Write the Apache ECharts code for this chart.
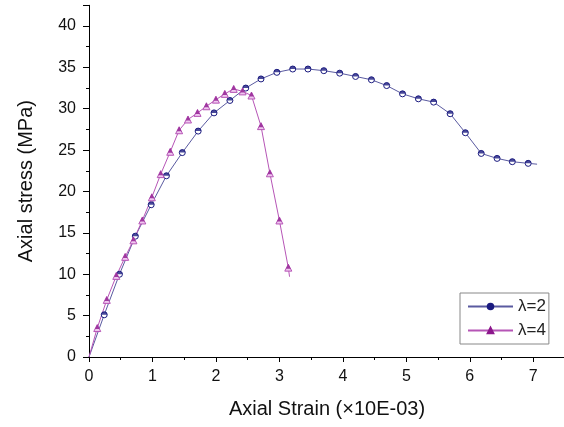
<!DOCTYPE html>
<html><head><meta charset="utf-8">
<script src="https://cdn.jsdelivr.net/npm/echarts@6/dist/echarts.min.js"></script>
<style>html,body{margin:0;padding:0;background:#fff}#c{width:564px;height:427px}</style>
</head><body><div id="c"></div>
<script>
// λ=2 series
const strainL2 = [0, 0.24, 0.48, 0.73, 0.98, 1.22, 1.47, 1.72, 1.97, 2.22, 2.47, 2.71, 2.96, 3.21, 3.45, 3.70, 3.95, 4.20, 4.45, 4.69, 4.94, 5.19, 5.43, 5.69, 5.93, 6.18, 6.43, 6.67, 6.92, 7.06];
const stressL2 = [0, 5.1, 10.0, 14.6, 18.4, 21.9, 24.7, 27.3, 29.5, 31.0, 32.5, 33.6, 34.4, 34.8, 34.8, 34.6, 34.3, 33.9, 33.5, 32.8, 31.8, 31.2, 30.8, 29.4, 27.1, 24.6, 24.0, 23.6, 23.4, 23.3];
// λ=4 series
const strainL4 = [0, 0.13, 0.28, 0.43, 0.57, 0.70, 0.84, 0.99, 1.13, 1.28, 1.42, 1.56, 1.71, 1.85, 2.00, 2.14, 2.28, 2.42, 2.56, 2.71, 2.85, 3.00, 3.14, 3.16];
const stressL4 = [0, 3.5, 6.9, 9.8, 12.1, 14.1, 16.5, 19.3, 22.1, 24.8, 27.4, 28.7, 29.5, 30.3, 31.1, 31.8, 32.4, 32.1, 31.6, 27.9, 22.2, 16.5, 10.8, 9.7];
const seriesNames = ['λ=2', 'λ=4'];
// ticks
const xMajorTicks = [0, 1, 2, 3, 4, 5, 6, 7];
const xMinorTicks = [0.5, 1.5, 2.5, 3.5, 4.5, 5.5, 6.5];
const yMajorTicks = [0, 5, 10, 15, 20, 25, 30, 35, 40, 42.5];
const yTickLabels = [0, 5, 10, 15, 20, 25, 30, 35, 40];
const yMinorTicks = [2.5, 7.5, 12.5, 17.5, 22.5, 27.5, 32.5, 37.5];

const FONT = 'Liberation Sans, Arial, sans-serif';
const C2 = {line: '#5a5aa0', mark: '#1b1b80'};
const C4 = {line: '#b655b6', mark: '#8c178c'};

function pts(xs, ys) {
  return xs.map((x, i) => {
    const d = {value: [x, ys[i]]};
    if (i === 0 || i === xs.length - 1) d.symbol = 'none';
    return d;
  });
}
function inner(xs, ys) {
  return xs.map((x, i) => [x, ys[i]]).slice(1, -1);
}

const baseAxis = {
  min: 0, axisLine: {show: true, lineStyle: {color: '#000', width: 1}},
  splitLine: {show: false},
};
const chart = echarts.init(document.getElementById('c'), null, {renderer: 'canvas'});
chart.setOption({
  animation: false,
  backgroundColor: '#fff',
  grid: {left: 89, top: 5.3, width: 476, height: 351.7, outerBoundsMode: 'none', containLabel: false},
  legend: {
    data: [
      {name: seriesNames[0], itemStyle: {color: C2.mark, borderColor: C2.mark}},
      {name: seriesNames[1], itemStyle: {color: C4.mark, borderColor: C4.mark}}
    ],
    orient: 'vertical', left: 460, top: 293,
    itemWidth: 45, itemHeight: 7, itemGap: 7, align: 'left',
    padding: [5, 3, 5, 7], borderColor: '#888', borderWidth: 1,
    textStyle: {fontFamily: FONT, fontSize: 17, color: '#222'}
  },
  xAxis: [
    Object.assign({}, baseAxis, {
      type: 'value', max: 7.5, position: 'bottom',
      name: 'Axial Strain (×10E-03)', nameLocation: 'middle', nameGap: 42,
      nameTextStyle: {fontFamily: FONT, fontSize: 20, color: '#111'},
      axisTick: {show: true, inside: false, length: 5, customValues: xMajorTicks, lineStyle: {color: '#000'}},
      axisLabel: {customValues: xMajorTicks, margin: 12, fontFamily: FONT, fontSize: 16, color: '#111'}
    }),
    {
      type: 'value', min: 0, max: 7.5, position: 'bottom',
      axisLine: {show: false}, splitLine: {show: false}, axisLabel: {show: false},
      axisTick: {show: true, length: 3, customValues: xMinorTicks, lineStyle: {color: '#000'}}
    }
  ],
  yAxis: [
    Object.assign({}, baseAxis, {
      type: 'value', max: 42.5, position: 'left',
      name: 'Axial stress (MPa)', nameLocation: 'middle', nameGap: 53, nameRotate: 90,
      nameTextStyle: {fontFamily: FONT, fontSize: 20, color: '#111'},
      axisTick: {show: true, inside: false, length: 6, customValues: yMajorTicks, lineStyle: {color: '#000'}},
      axisLabel: {customValues: yTickLabels, margin: 13, fontFamily: FONT, fontSize: 16, color: '#111'}
    }),
    {
      type: 'value', min: 0, max: 42.5, position: 'left',
      axisLine: {show: false}, splitLine: {show: false}, axisLabel: {show: false},
      axisTick: {show: true, length: 3, customValues: yMinorTicks, lineStyle: {color: '#000'}}
    }
  ],
  series: [
    {
      name: seriesNames[0], type: 'line', data: pts(strainL2, stressL2),
      showAllSymbol: true, symbol: 'circle', symbolSize: 6,
      lineStyle: {color: C2.line, width: 1},
      itemStyle: {color: '#ffffff', borderColor: C2.mark, borderWidth: 1}
    },
    {
      name: 'λ=2 top', type: 'scatter', data: inner(strainL2, stressL2),
      symbol: 'path://M0,5 A5,5 0 0 1 10,5 Z', symbolSize: [6, 3], symbolOffset: [0, -1.5],
      itemStyle: {color: C2.mark}, z: 3
    },
    {
      name: seriesNames[1], type: 'line', data: pts(strainL4, stressL4),
      showAllSymbol: true, symbol: 'triangle', symbolSize: 7,
      lineStyle: {color: C4.line, width: 1},
      itemStyle: {color: '#f0c6f0', borderColor: C4.line, borderWidth: 1}
    },
    {
      name: 'λ=4 top', type: 'scatter', data: inner(strainL4, stressL4),
      symbol: 'path://M5,0 L10,10 L0,10 Z', symbolSize: [4.5, 4.5], symbolOffset: [0, -1.2],
      itemStyle: {color: C4.mark}, z: 3
    }
  ]
});
</script></body></html>
